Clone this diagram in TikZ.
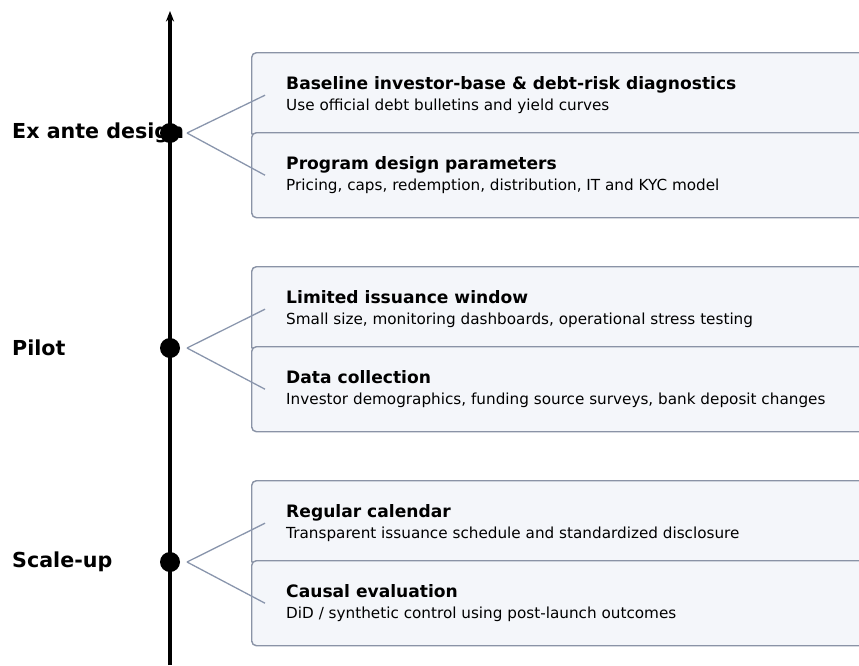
\documentclass[tikz,border=0pt]{standalone}
\usepackage{fontspec}
\setmainfont{DejaVu Sans}
\usetikzlibrary{calc,arrows.meta}
\definecolor{cardfill}{HTML}{F4F6FA}
\definecolor{cardline}{HTML}{8A93A6}
\definecolor{linkline}{HTML}{8995AC}
\begin{document}
\begin{tikzpicture}[x=0.03cm,y=-0.03cm,
  card/.style={draw=cardline,fill=cardfill,line width=1.2pt,rounded corners=4pt,
    anchor=north west,minimum width=21cm,minimum height=2.55cm},
  head/.style={anchor=base west,inner sep=0pt,font=\fontsize{14.6}{17}\selectfont\bfseries},
  note/.style={anchor=base west,inner sep=0pt,font=\fontsize{13}{15}\selectfont},
  stage/.style={anchor=west,inner sep=0pt,font=\fontsize{17.6}{20}\selectfont\bfseries},
  dot/.style={circle,fill=black,inner sep=0pt,minimum size=0.6cm},
  link/.style={draw=linkline,line width=1.1pt}]
   \useasboundingbox (0,0) rectangle (859,665);
   \clip (0,0) rectangle (859,665);

   % 説明ボックス
   \node[card] (b1) at (251,52) {};
   \node[card] (b2) at (251,132) {};
   \node[card] (b3) at (251,266) {};
   \node[card] (b4) at (251,346) {};
   \node[card] (b5) at (251,480) {};
   \node[card] (b6) at (251,560) {};

   \node[head] (h1) at (286,89) {Baseline investor-base \& debt-risk diagnostics};
   \node[note] (n1) at (286,110) {Use official debt bulletins and yield curves};
   \node[head] (h2) at (286,169) {Program design parameters};
   \node[note] (n2) at (286,190) {Pricing, caps, redemption, distribution, IT and KYC model};
   \node[head] (h3) at (286,303) {Limited issuance window};
   \node[note] (n3) at (286,324) {Small size, monitoring dashboards, operational stress testing};
   \node[head] (h4) at (286,383) {Data collection};
   \node[note] (n4) at (286,404) {Investor demographics, funding source surveys, bank deposit changes};
   \node[head] (h5) at (286,517) {Regular calendar};
   \node[note] (n5) at (286,538) {Transparent issuance schedule and standardized disclosure};
   \node[head] (h6) at (286,597) {Causal evaluation};
   \node[note] (n6) at (286,618) {DiD / synthetic control using post-launch outcomes};

   % 時間軸
   \coordinate (bot) at (170,665);
   \coordinate (top) at (170,11);
   \draw[-{Stealth[length=9pt,width=7pt]},line width=3pt] (bot) -- (top);

   \node[stage] (s1) at (12,133) {Ex ante design};
   \node[stage] (s2) at (12,348) {Pilot};
   \node[stage] (s3) at (12,562) {Scale-up};

   \node[dot] (d1) at (170,133) {};
   \node[dot] (d2) at (170,348) {};
   \node[dot] (d3) at (170,562) {};

   % 補助線
   \draw[link] ($(d1)+(17,0)$) -- ($(b1.west)+(14,0)$);
   \draw[link] ($(d1)+(17,0)$) -- ($(b2.west)+(14,0)$);
   \draw[link] ($(d2)+(17,0)$) -- ($(b3.west)+(14,0)$);
   \draw[link] ($(d2)+(17,0)$) -- ($(b4.west)+(14,0)$);
   \draw[link] ($(d3)+(17,0)$) -- ($(b5.west)+(14,0)$);
   \draw[link] ($(d3)+(17,0)$) -- ($(b6.west)+(14,0)$);

\end{tikzpicture}
\end{document}
